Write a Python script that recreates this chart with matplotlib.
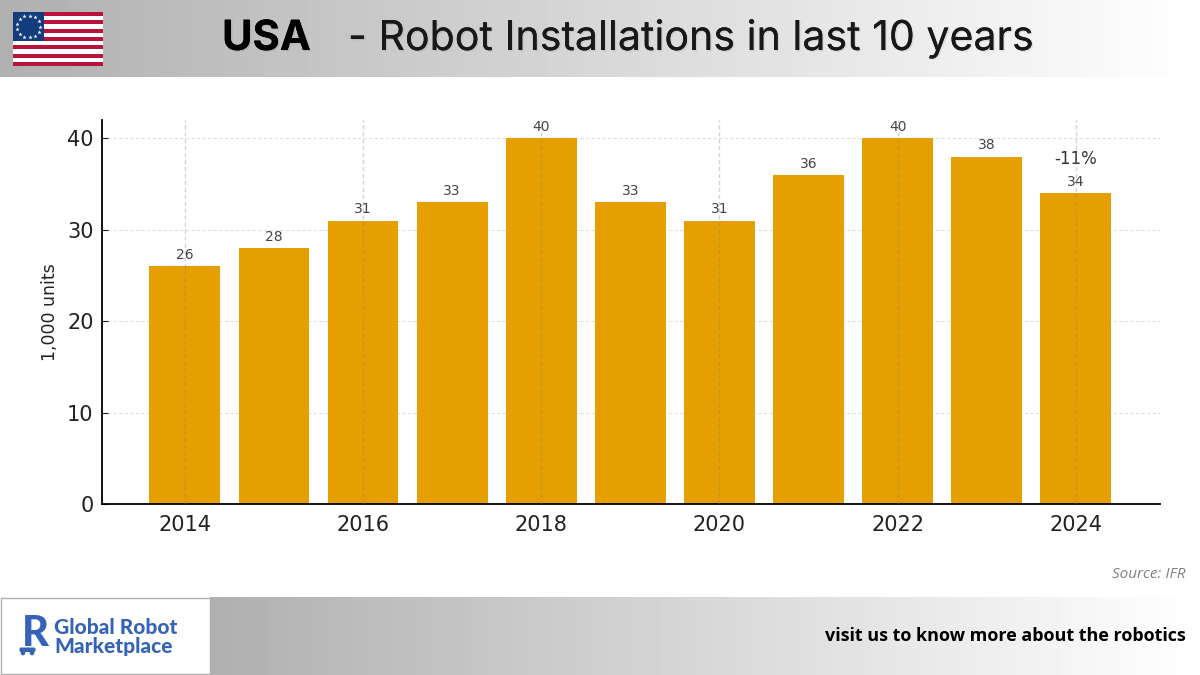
import numpy as np
import matplotlib
matplotlib.use('Agg')
import matplotlib.pyplot as plt
from matplotlib.patches import Rectangle, Circle, FancyBboxPatch
import matplotlib.patheffects as pe

years = [2014, 2015, 2016, 2017, 2018, 2019, 2020, 2021, 2022, 2023, 2024]
units = [26, 28, 31, 33, 40, 33, 31, 36, 40, 38, 34]
change_label = '-11%'
y_ticks = [0, 10, 20, 30, 40]
x_ticks = [2014, 2016, 2018, 2020, 2022, 2024]

W, H = 1200, 675
fig = plt.figure(figsize=(12, 6.75), dpi=100, facecolor='white')

# background layer in pixel coordinates
bg = fig.add_axes([0, 0, 1, 1], zorder=0)
bg.axis('off')

grad = np.linspace(0.69, 1.0, 256).reshape(1, -1)
bg.imshow(grad, extent=[0, 1200, 77, 0], cmap='gray', vmin=0, vmax=1, aspect='auto')
bg.imshow(grad, extent=[210, 1200, 675, 597], cmap='gray', vmin=0, vmax=1, aspect='auto')
bg.set_xlim(0, W)
bg.set_ylim(H, 0)

# flag
fx, fy, fw, fh = 13, 12, 90, 54
for i in range(13):
    c = '#b8133a' if i % 2 == 0 else 'white'
    bg.add_patch(Rectangle((fx, fy + i * fh / 13), fw, fh / 13, fc=c, ec='none'))
bg.add_patch(Rectangle((fx, fy), 31, fh * 7 / 13, fc='#123c7e', ec='none'))
for a in np.linspace(0, 2 * np.pi, 14)[:-1]:
    bg.plot(fx + 15.5 + 11.5 * np.cos(a), fy + 14.5 + 11 * np.sin(a), marker='*',
            ms=3.2, color='white', mec='none')

# title
shadow = [pe.withSimplePatchShadow(offset=(1, -1), shadow_rgbFace='k', alpha=0.08), pe.Normal()]
bg.text(222, 50, 'USA', fontsize=30, fontweight='bold', family='Inter', color='black',
        va='baseline', ha='left', path_effects=shadow)
bg.text(1033, 50, '- Robot Installations in last 10 years', fontsize=29.6, family='Inter',
        color='#181818', va='baseline', ha='right', path_effects=shadow)

# footer
bg.add_patch(Rectangle((1, 598), 209, 76, fc='white', ec='#b0b0b0', lw=1))
bg.text(54, 628, 'Global Robot', fontsize=15, fontweight='black', family='Lato', color='#3563b8', va='center')
bg.text(54, 646, 'Marketplace', fontsize=15, fontweight='black', family='Lato', color='#3563b8', va='center')
bg.text(35, 634, 'R', fontsize=30, fontweight='black', family='Lato', color='#3563b8', va='center', ha='center')
bg.add_patch(FancyBboxPatch((21, 649), 13, 1.5, boxstyle='round,pad=1.5', fc='#3563b8', ec='none'))
bg.add_patch(Circle((23, 653), 2.3, fc='#3563b8', ec='none'))
bg.add_patch(Circle((32, 653), 2.3, fc='#3563b8', ec='none'))
bg.text(1186, 636, 'visit us to know more about the robotics', fontsize=13, fontweight='bold',
        family='Open Sans', color='black', va='center', ha='right')
bg.text(1186, 574, 'Source: IFR', fontsize=11, style='italic', family='Open Sans', color='#808080',
        va='center', ha='right')

# chart
ax = fig.add_axes([102 / W, 1 - 504 / H, (1160 - 102) / W, (504 - 120) / H], zorder=1)
ax.patch.set_alpha(0)
ax.bar(years, units, width=0.795, color='#e69f00', zorder=2)
for yr, v in zip(years, units):
    ax.text(yr, v + 0.45, str(v), ha='center', va='bottom', fontsize=10, color='#444444')
ax.text(years[-1], units[-1] + 2.75, change_label, ha='center', va='bottom', fontsize=12, color='#333333')

ax.set_xlim(2013.07, 2024.945)
ax.set_ylim(0, 42)
ax.set_xticks(x_ticks)
ax.set_yticks(y_ticks)
ax.tick_params(axis='both', labelsize=15, colors='#222222', length=4.5, direction='in')
ax.tick_params(axis='x', pad=8)
ax.tick_params(axis='y', pad=6)
ax.set_ylabel('1,000 units', fontsize=12.5, color='#222222', labelpad=6)
# horizontal grid stays behind the bars, vertical one runs over them
ax.set_axisbelow(True)
ax.grid(True, axis='y', linestyle=(0, (3, 2)), color='gray', alpha=0.25, linewidth=0.8)
for t in x_ticks:
    ax.axvline(t, linestyle=(0, (3, 2)), color='gray', alpha=0.35, linewidth=1, zorder=3)
ax.spines['top'].set_visible(False)
ax.spines['right'].set_visible(False)
ax.spines['left'].set_linewidth(1.3)
ax.spines['bottom'].set_linewidth(1.3)

fig.savefig('out.png', dpi=100)
